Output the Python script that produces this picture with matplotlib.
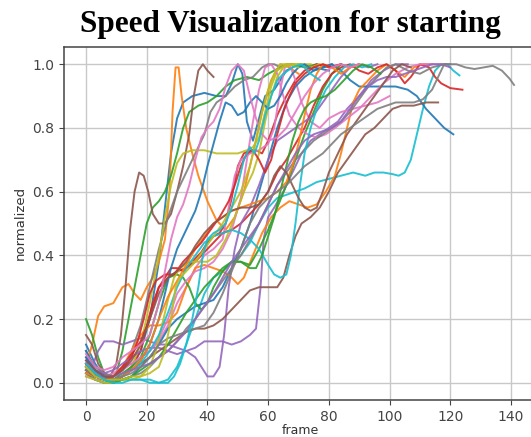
import matplotlib
matplotlib.use("Agg")
import matplotlib.pyplot as plt

# each series: (frame, normalized speed) points
line_00 = [(0, 0.12), (3, 0.06), (6, 0.02), (9, 0.01), (12, 0.02), (15, 0.05), (18, 0.1), (21, 0.2), (24, 0.38),
           (26, 0.55), (28, 0.72), (30, 0.83), (32, 0.88), (35, 0.9), (39, 0.91), (43, 0.9), (46, 0.9), (48, 0.94),
           (50, 1.0), (51.5, 0.97), (53, 0.82), (55, 0.76), (57, 0.83), (59, 0.9), (62, 0.92), (66, 0.98), (70, 1.0),
           (75, 0.99), (80, 0.98)]
line_01 = [(0, 0.05), (2, 0.12), (4, 0.21), (6, 0.24), (9, 0.25), (12, 0.3), (14, 0.31), (16, 0.28), (18, 0.26),
           (20, 0.3), (22, 0.33), (24, 0.38), (26, 0.45), (27.5, 0.6), (28.5, 0.85), (29.5, 0.99), (30.5, 0.99),
           (31.5, 0.9), (33, 0.8), (35, 0.72), (37, 0.65), (40, 0.57), (43, 0.51), (46, 0.48), (49, 0.52), (52, 0.6),
           (55, 0.72), (58, 0.85), (61, 0.95), (64, 1.0), (67, 0.99), (70, 0.97)]
line_02 = [(0, 0.2), (2, 0.15), (4, 0.08), (6, 0.03), (8, 0.01), (10, 0.03), (12, 0.1), (14, 0.2), (16, 0.3),
           (18, 0.4), (20, 0.5), (22, 0.55), (24, 0.57), (26, 0.6), (28, 0.65), (30, 0.72), (32, 0.8), (34, 0.85),
           (37, 0.87), (40, 0.88), (43, 0.9), (46, 0.93), (49, 0.95), (53, 0.96), (57, 0.95), (60, 0.97), (64, 0.99),
           (68, 1.0), (72, 0.99), (76, 1.0)]
line_03 = [(0, 0.05), (3, 0.03), (6, 0.01), (9, 0.0), (12, 0.02), (15, 0.05), (18, 0.1), (20, 0.18), (22, 0.25),
           (24, 0.3), (26, 0.33), (28, 0.36), (30, 0.36), (32, 0.35), (34, 0.37), (36, 0.39), (38, 0.41), (40, 0.44),
           (42, 0.46), (44, 0.47), (46, 0.5), (48, 0.58), (50, 0.68), (52, 0.72), (54, 0.73), (56, 0.73), (58, 0.72),
           (60, 0.76), (63, 0.84), (66, 0.9), (69, 0.95), (72, 0.98), (76, 1.0), (80, 0.99), (84, 1.0)]
line_04 = [(0, 0.08), (2, 0.05), (4, 0.1), (6, 0.13), (9, 0.13), (12, 0.12), (15, 0.13), (18, 0.14), (21, 0.13),
           (24, 0.12), (27, 0.12), (30, 0.11), (33, 0.1), (36, 0.11), (39, 0.13), (42, 0.13), (45, 0.13), (48, 0.12),
           (51, 0.13), (54, 0.15), (56, 0.17), (57.5, 0.3), (58.5, 0.45), (60, 0.52), (62, 0.55), (65, 0.6),
           (68, 0.66), (71, 0.72), (74, 0.76), (77, 0.78), (80, 0.8), (83, 0.82), (86, 0.86), (90, 0.9), (94, 0.95),
           (98, 0.98), (102, 1.0), (106, 1.0)]
line_05 = [(0, 0.15), (2, 0.12), (4, 0.06), (6, 0.03), (8, 0.02), (10, 0.06), (11.5, 0.15), (13, 0.3), (14.5, 0.48),
           (16, 0.6), (17.5, 0.66), (19, 0.65), (20.5, 0.6), (22, 0.53), (24, 0.5), (26, 0.5), (28, 0.53), (30, 0.6),
           (32, 0.68), (34, 0.78), (35.5, 0.9), (37, 0.98), (38.5, 1.0), (40, 0.98), (42, 0.96)]
line_06 = [(0, 0.06), (3, 0.03), (6, 0.02), (9, 0.03), (12, 0.05), (15, 0.06), (18, 0.08), (21, 0.1), (24, 0.13),
           (27, 0.18), (30, 0.25), (33, 0.3), (36, 0.36), (39, 0.4), (42, 0.42), (45, 0.45), (47, 0.55), (49, 0.65),
           (51, 0.7), (54, 0.72), (57, 0.73), (60, 0.75), (62, 0.8), (64, 0.92), (65.5, 0.99), (67, 1.0), (69, 0.95),
           (71, 0.88), (74, 0.82), (77, 0.8), (80, 0.83), (84, 0.85), (88, 0.86), (92, 0.87), (96, 0.88), (100, 0.9)]
line_07 = [(0, 0.1), (3, 0.05), (6, 0.03), (9, 0.02), (12, 0.04), (15, 0.1), (18, 0.18), (21, 0.3), (24, 0.42),
           (27, 0.52), (30, 0.6), (33, 0.66), (36, 0.72), (39, 0.78), (41, 0.85), (43, 0.88), (46, 0.9), (49, 0.93),
           (52, 0.95), (55, 0.96), (58, 0.99), (60, 1.0), (62, 1.0), (64, 0.99), (66, 1.0), (68, 1.0)]
line_08 = [(0, 0.04), (3, 0.02), (6, 0.01), (9, 0.01), (12, 0.02), (15, 0.05), (18, 0.12), (21, 0.25), (24, 0.4),
           (26, 0.52), (28, 0.62), (30, 0.69), (32, 0.72), (35, 0.73), (39, 0.73), (43, 0.72), (47, 0.72), (50, 0.72),
           (53, 0.73), (55, 0.74), (57, 0.77), (59, 0.85), (61, 0.93), (63, 0.98), (66, 1.0), (70, 1.0), (74, 1.0)]
line_09 = [(0, 0.03), (3, 0.01), (6, 0.0), (9, 0.0), (12, 0.01), (15, 0.01), (18, 0.01), (21, 0.0), (24, 0.0),
           (27, 0.01), (30, 0.05), (33, 0.12), (36, 0.2), (39, 0.28), (42, 0.33), (45, 0.35), (48, 0.38), (51, 0.4),
           (54, 0.44), (57, 0.5), (60, 0.55), (63, 0.58), (66, 0.59), (69, 0.6), (72, 0.61), (76, 0.63), (80, 0.64),
           (84, 0.65), (88, 0.66), (92, 0.65), (95, 0.66), (98, 0.66), (101, 0.655), (103, 0.65), (105, 0.66),
           (107, 0.7), (109, 0.78), (111, 0.86), (113, 0.93), (115, 0.98), (117, 1.0), (119, 1.0), (121, 0.98),
           (123, 0.965)]
line_10 = [(0, 0.1), (3, 0.04), (6, 0.01), (9, 0.0), (12, 0.01), (15, 0.02), (18, 0.05), (21, 0.08), (24, 0.12),
           (27, 0.17), (30, 0.2), (33, 0.22), (36, 0.24), (39, 0.25), (42, 0.26), (45, 0.3), (48, 0.36), (51, 0.42),
           (54, 0.5), (57, 0.6), (60, 0.7), (63, 0.8), (66, 0.88), (69, 0.93), (72, 0.96), (75, 0.98), (78, 0.99),
           (81, 1.0), (84, 0.98), (87, 0.95), (90, 0.93), (94, 0.93), (98, 0.93), (102, 0.93), (106, 0.92),
           (109, 0.9), (112, 0.86), (115, 0.83), (118, 0.8), (121, 0.78)]
line_11 = [(0, 0.04), (3, 0.02), (6, 0.01), (9, 0.02), (12, 0.05), (15, 0.1), (18, 0.15), (21, 0.18), (24, 0.18),
           (27, 0.19), (30, 0.22), (33, 0.3), (36, 0.36), (39, 0.37), (42, 0.36), (45, 0.35), (48, 0.33), (50, 0.31),
           (52, 0.33), (55, 0.4), (58, 0.47), (61, 0.52), (64, 0.55), (67, 0.57), (70, 0.56), (73, 0.55), (76, 0.56),
           (79, 0.6), (82, 0.65), (84, 0.72), (86, 0.8), (88, 0.88), (90, 0.92), (93, 0.95), (96, 0.98), (99, 1.0),
           (102, 0.98), (105, 0.96), (108, 0.99), (111, 1.0), (114, 1.0)]
line_12 = [(0, 0.03), (3, 0.01), (6, 0.0), (9, 0.01), (12, 0.03), (15, 0.05), (18, 0.08), (21, 0.15), (24, 0.25),
           (27, 0.33), (30, 0.34), (32, 0.33), (34, 0.3), (36, 0.25), (38, 0.23), (40, 0.25), (42, 0.3), (45, 0.35),
           (48, 0.38), (51, 0.38), (54, 0.37), (57, 0.42), (60, 0.48), (63, 0.55), (66, 0.62), (69, 0.7), (72, 0.78),
           (75, 0.85), (78, 0.92), (81, 0.97), (84, 1.0), (87, 0.99), (90, 1.0)]
line_13 = [(0, 0.06), (3, 0.03), (6, 0.01), (9, 0.02), (12, 0.05), (15, 0.09), (18, 0.13), (21, 0.2), (24, 0.3),
           (27, 0.33), (30, 0.35), (33, 0.36), (36, 0.38), (39, 0.41), (42, 0.44), (45, 0.47), (48, 0.48), (51, 0.5),
           (54, 0.53), (57, 0.56), (60, 0.6), (63, 0.66), (66, 0.7), (69, 0.75), (72, 0.8), (75, 0.87), (78, 0.93),
           (81, 0.97), (84, 0.99), (87, 1.0), (90, 0.98), (93, 0.97), (96, 0.99), (99, 1.0), (102, 0.98), (105, 0.94),
           (107, 0.96), (110, 1.0), (113, 0.99), (115, 0.96), (117, 0.94), (120, 0.925), (124, 0.92)]
line_14 = [(0, 0.07), (3, 0.04), (6, 0.03), (9, 0.04), (12, 0.06), (15, 0.08), (18, 0.1), (21, 0.11), (24, 0.11),
           (27, 0.1), (30, 0.09), (33, 0.1), (36, 0.08), (38, 0.05), (40, 0.02), (42, 0.02), (44, 0.05), (45.5, 0.15),
           (47, 0.3), (49, 0.42), (51, 0.5), (54, 0.55), (57, 0.62), (60, 0.7), (63, 0.76), (66, 0.78), (69, 0.8),
           (72, 0.82), (75, 0.84), (78, 0.88), (81, 0.92), (84, 0.96), (87, 0.99), (90, 1.0), (93, 0.99), (96, 1.0)]
line_15 = [(0, 0.05), (3, 0.02), (6, 0.01), (9, 0.01), (12, 0.02), (15, 0.04), (18, 0.06), (21, 0.08), (24, 0.1),
           (27, 0.12), (30, 0.14), (33, 0.16), (36, 0.17), (39, 0.17), (42, 0.18), (45, 0.2), (48, 0.23), (51, 0.26),
           (54, 0.29), (57, 0.3), (60, 0.3), (63, 0.3), (65, 0.33), (67, 0.4), (69, 0.46), (71, 0.5), (74, 0.52),
           (77, 0.55), (80, 0.6), (83, 0.66), (86, 0.7), (89, 0.74), (92, 0.78), (95, 0.8), (98, 0.83), (101, 0.86),
           (104, 0.87), (108, 0.87), (112, 0.88), (116, 0.88)]
line_16 = [(0, 0.02), (3, 0.01), (6, 0.01), (9, 0.02), (12, 0.04), (15, 0.06), (18, 0.08), (21, 0.1), (24, 0.14),
           (27, 0.2), (30, 0.28), (33, 0.32), (36, 0.35), (39, 0.36), (42, 0.38), (45, 0.42), (48, 0.48), (51, 0.58),
           (53, 0.7), (55, 0.82), (57, 0.92), (59, 0.99), (61, 1.0), (63, 0.97), (65, 0.9), (67, 0.84), (70, 0.8),
           (73, 0.78), (76, 0.77), (79, 0.78), (82, 0.8), (86, 0.83), (90, 0.86), (94, 0.9), (98, 0.94), (102, 0.97),
           (106, 0.99), (110, 1.0), (114, 1.0), (118, 1.0)]
line_17 = [(0, 0.03), (3, 0.01), (6, 0.0), (9, 0.0), (12, 0.01), (15, 0.02), (18, 0.03), (21, 0.05), (24, 0.08),
           (27, 0.1), (30, 0.13), (33, 0.17), (36, 0.2), (39, 0.24), (42, 0.28), (45, 0.32), (48, 0.36), (51, 0.4),
           (54, 0.45), (57, 0.5), (60, 0.56), (63, 0.62), (66, 0.66), (69, 0.7), (72, 0.73), (75, 0.76), (78, 0.78),
           (81, 0.8), (84, 0.82), (87, 0.85), (90, 0.89), (93, 0.93), (96, 0.96), (99, 0.99), (102, 1.0), (106, 0.98),
           (110, 0.97), (114, 0.99), (118, 1.0), (122, 1.0), (125, 0.99), (128, 0.985), (131, 0.99), (134, 0.995),
           (137, 0.98), (139.5, 0.955), (141, 0.935)]
line_18 = [(0, 0.02), (3, 0.01), (6, 0.0), (9, 0.0), (12, 0.01), (15, 0.01), (18, 0.02), (21, 0.05), (23, 0.1),
           (25, 0.18), (27, 0.26), (29, 0.33), (31, 0.36), (34, 0.38), (37, 0.38), (40, 0.38), (43, 0.4), (46, 0.45),
           (49, 0.52), (52, 0.6), (55, 0.66), (57, 0.72), (59, 0.82), (61, 0.9), (63, 0.96), (65, 0.99), (68, 1.0),
           (71, 1.0), (74, 0.99), (77, 1.0)]
line_19 = [(0, 0.05), (3, 0.02), (6, 0.01), (9, 0.01), (12, 0.02), (15, 0.04), (18, 0.06), (21, 0.1), (24, 0.15),
           (27, 0.22), (30, 0.3), (33, 0.36), (36, 0.4), (39, 0.44), (42, 0.46), (45, 0.47), (48, 0.48), (51, 0.47),
           (54, 0.45), (57, 0.42), (60, 0.37), (62, 0.34), (64, 0.33), (66, 0.34), (67.5, 0.4), (69, 0.5),
           (70.5, 0.62), (72, 0.72), (74, 0.8), (76, 0.86), (79, 0.92), (82, 0.96), (85, 0.99), (88, 1.0), (91, 0.99),
           (94, 1.0)]
line_20 = [(0, 0.08), (3, 0.04), (6, 0.02), (9, 0.01), (12, 0.02), (15, 0.04), (18, 0.07), (21, 0.12), (24, 0.2),
           (26, 0.28), (28, 0.36), (30, 0.42), (33, 0.48), (36, 0.54), (38, 0.6), (40, 0.68), (42, 0.75), (44, 0.82),
           (46, 0.88), (48, 0.87), (50, 0.84), (52, 0.85), (54, 0.88), (56, 0.9), (58, 0.88), (60, 0.86), (62, 0.87),
           (64, 0.9), (66, 0.94), (68, 0.97), (70, 0.99), (72, 1.0), (75, 0.98), (78, 0.99), (81, 1.0)]
line_21 = [(0, 0.03), (3, 0.02), (6, 0.01), (9, 0.01), (12, 0.02), (15, 0.04), (18, 0.07), (21, 0.12), (24, 0.2),
           (27, 0.27), (30, 0.32), (33, 0.37), (36, 0.42), (39, 0.46), (42, 0.5), (45, 0.52), (48, 0.54), (51, 0.55),
           (54, 0.56), (57, 0.57), (60, 0.58), (63, 0.6), (66, 0.63), (68, 0.68), (70, 0.75), (72, 0.84), (74, 0.92),
           (76, 0.97), (78, 1.0), (81, 0.99), (84, 0.97), (87, 0.99), (90, 1.0)]
line_22 = [(0, 0.04), (3, 0.02), (6, 0.01), (9, 0.0), (12, 0.01), (15, 0.02), (18, 0.04), (21, 0.06), (24, 0.08),
           (27, 0.12), (30, 0.17), (33, 0.22), (36, 0.26), (39, 0.3), (42, 0.33), (45, 0.36), (48, 0.38), (51, 0.38),
           (54, 0.36), (56, 0.36), (58, 0.4), (60, 0.46), (62, 0.52), (64, 0.6), (66, 0.68), (68, 0.76), (70, 0.82),
           (72, 0.86), (74, 0.88), (76, 0.89), (79, 0.9), (82, 0.92), (85, 0.95), (88, 0.98), (91, 1.0), (94, 0.99),
           (97, 0.97)]
line_23 = [(0, 0.04), (3, 0.02), (6, 0.01), (9, 0.02), (12, 0.04), (15, 0.08), (17, 0.13), (19, 0.2), (21, 0.28),
           (23, 0.32), (26, 0.34), (29, 0.34), (32, 0.38), (35, 0.41), (38, 0.44), (41, 0.48), (44, 0.52), (47, 0.57),
           (49, 0.62), (51, 0.68), (53, 0.72), (55, 0.73), (57, 0.7), (59, 0.66), (61, 0.7), (63, 0.78), (65, 0.85),
           (67, 0.9), (69, 0.94), (72, 0.97), (75, 0.99), (78, 1.0), (81, 0.99), (84, 1.0)]
line_24 = [(0, 0.06), (3, 0.03), (6, 0.02), (9, 0.02), (12, 0.03), (15, 0.04), (18, 0.05), (21, 0.06), (24, 0.08),
           (27, 0.1), (30, 0.13), (33, 0.16), (36, 0.2), (39, 0.24), (42, 0.28), (45, 0.33), (48, 0.38), (51, 0.42),
           (54, 0.46), (57, 0.5), (60, 0.56), (63, 0.62), (66, 0.67), (69, 0.72), (72, 0.76), (75, 0.78), (78, 0.79),
           (81, 0.8), (84, 0.82), (87, 0.86), (90, 0.9), (93, 0.93), (96, 0.95), (99, 0.96), (102, 0.96),
           (105, 0.97), (108, 0.98), (111, 0.99), (114, 1.0), (117, 1.0), (120, 0.99)]
line_25 = [(0, 0.07), (3, 0.04), (6, 0.02), (9, 0.02), (12, 0.04), (15, 0.07), (18, 0.12), (21, 0.2), (24, 0.28),
           (27, 0.33), (30, 0.35), (33, 0.38), (36, 0.43), (39, 0.47), (42, 0.5), (45, 0.52), (48, 0.54), (51, 0.55),
           (54, 0.55), (57, 0.56), (60, 0.6), (62, 0.65), (64, 0.68), (66, 0.66), (68, 0.62), (70, 0.58), (72, 0.55),
           (74, 0.54), (76, 0.55), (78, 0.6), (80, 0.66), (83, 0.72), (86, 0.78), (89, 0.82), (92, 0.86), (95, 0.9),
           (98, 0.94), (101, 0.98), (104, 1.0), (107, 0.99)]
line_26 = [(0, 0.09), (3, 0.05), (6, 0.04), (9, 0.05), (12, 0.08), (15, 0.1), (18, 0.12), (21, 0.15), (24, 0.25),
           (26, 0.35), (28, 0.45), (30, 0.52), (32, 0.56), (34, 0.62), (36, 0.7), (38, 0.77), (40, 0.8), (42, 0.82),
           (44, 0.86), (46, 0.93), (48, 0.98), (50, 1.0), (52, 0.98), (54, 0.9), (56, 0.83), (58, 0.78), (60, 0.76),
           (63, 0.77), (66, 0.8), (69, 0.85), (72, 0.9), (75, 0.94), (78, 0.97), (81, 0.99), (84, 1.0), (87, 0.99),
           (90, 1.0)]
line_27 = [(0, 0.04), (3, 0.02), (6, 0.01), (9, 0.01), (12, 0.02), (15, 0.03), (18, 0.05), (21, 0.08), (24, 0.12),
           (27, 0.14), (30, 0.15), (33, 0.16), (36, 0.17), (39, 0.18), (42, 0.22), (45, 0.28), (48, 0.35), (51, 0.42),
           (54, 0.5), (57, 0.55), (60, 0.58), (63, 0.6), (66, 0.62), (69, 0.65), (72, 0.68), (75, 0.7), (78, 0.72),
           (81, 0.75), (84, 0.78), (87, 0.8), (90, 0.82), (93, 0.84), (96, 0.86), (99, 0.87), (102, 0.88),
           (105, 0.88), (108, 0.88), (111, 0.89), (114, 0.92), (116, 0.96), (118, 1.0), (120, 1.0)]
line_28 = [(0, 0.05), (3, 0.02), (6, 0.01), (9, 0.01), (12, 0.01), (15, 0.02), (18, 0.02), (21, 0.03), (24, 0.05),
           (26, 0.1), (28, 0.2), (29.5, 0.3), (31, 0.33), (33, 0.35), (36, 0.38), (39, 0.42), (42, 0.46), (45, 0.5),
           (48, 0.55), (51, 0.6), (54, 0.68), (56, 0.76), (58, 0.85), (60, 0.92), (62, 0.97), (64, 1.0), (67, 1.0),
           (70, 0.99)]
line_29 = [(0, 0.06), (3, 0.03), (6, 0.01), (9, 0.0), (12, 0.0), (15, 0.01), (18, 0.01), (21, 0.01), (24, 0.0),
           (27, 0.0), (29, 0.02), (31, 0.06), (33, 0.12), (35, 0.2), (37, 0.3), (38.5, 0.4), (40, 0.45), (42, 0.47),
           (44, 0.48), (46, 0.5), (48, 0.55), (50, 0.62), (52, 0.7), (54, 0.74), (55.5, 0.72), (57, 0.76), (59, 0.84),
           (61, 0.9), (63, 0.95), (65, 0.97), (68, 0.99), (71, 1.0), (74, 0.97), (77, 0.95)]

all_lines = [line_00, line_01, line_02, line_03, line_04, line_05, line_06, line_07, line_08, line_09,
             line_10, line_11, line_12, line_13, line_14, line_15, line_16, line_17, line_18, line_19,
             line_20, line_21, line_22, line_23, line_24, line_25, line_26, line_27, line_28, line_29]

x_ticks = [0, 20, 40, 60, 80, 100, 120, 140]
y_ticks = [0.0, 0.2, 0.4, 0.6, 0.8, 1.0]

W, H = 531, 437
fig = plt.figure(figsize=(W / 100, H / 100), dpi=100)
# right edge of the axes sits just outside the picture, as in the reference crop
ax = fig.add_axes([63.7 / W, 1 - 400 / H, 474 / W, 353.3 / H])

for i, pts in enumerate(all_lines):
    xs = [p[0] for p in pts]
    ys = [p[1] for p in pts]
    ax.plot(xs, ys, color=f"C{i % 10}", lw=1.4, alpha=0.9)

ax.set_xlim(-7.35, 148.8)
ax.set_ylim(-0.054, 1.055)
ax.set_xticks(x_ticks)
ax.set_yticks(y_ticks)
ax.grid(True, color="#c8c8c8", lw=1.0)
ax.tick_params(labelsize=10, colors="#444444")
for s in ax.spines.values():
    s.set_color("#444444")
    s.set_linewidth(1.1)

ax.set_xlabel("frame", fontsize=9, color="#333333", labelpad=0)
ax.set_ylabel("normalized", fontsize=9.5, color="#333333", labelpad=4)

fig.text(290 / W, 1 - 32 / H, "Speed Visualization for starting", family="Liberation Serif",
         weight="bold", fontsize=22.5, ha="center", va="baseline")

fig.savefig("out.png", dpi=100)
